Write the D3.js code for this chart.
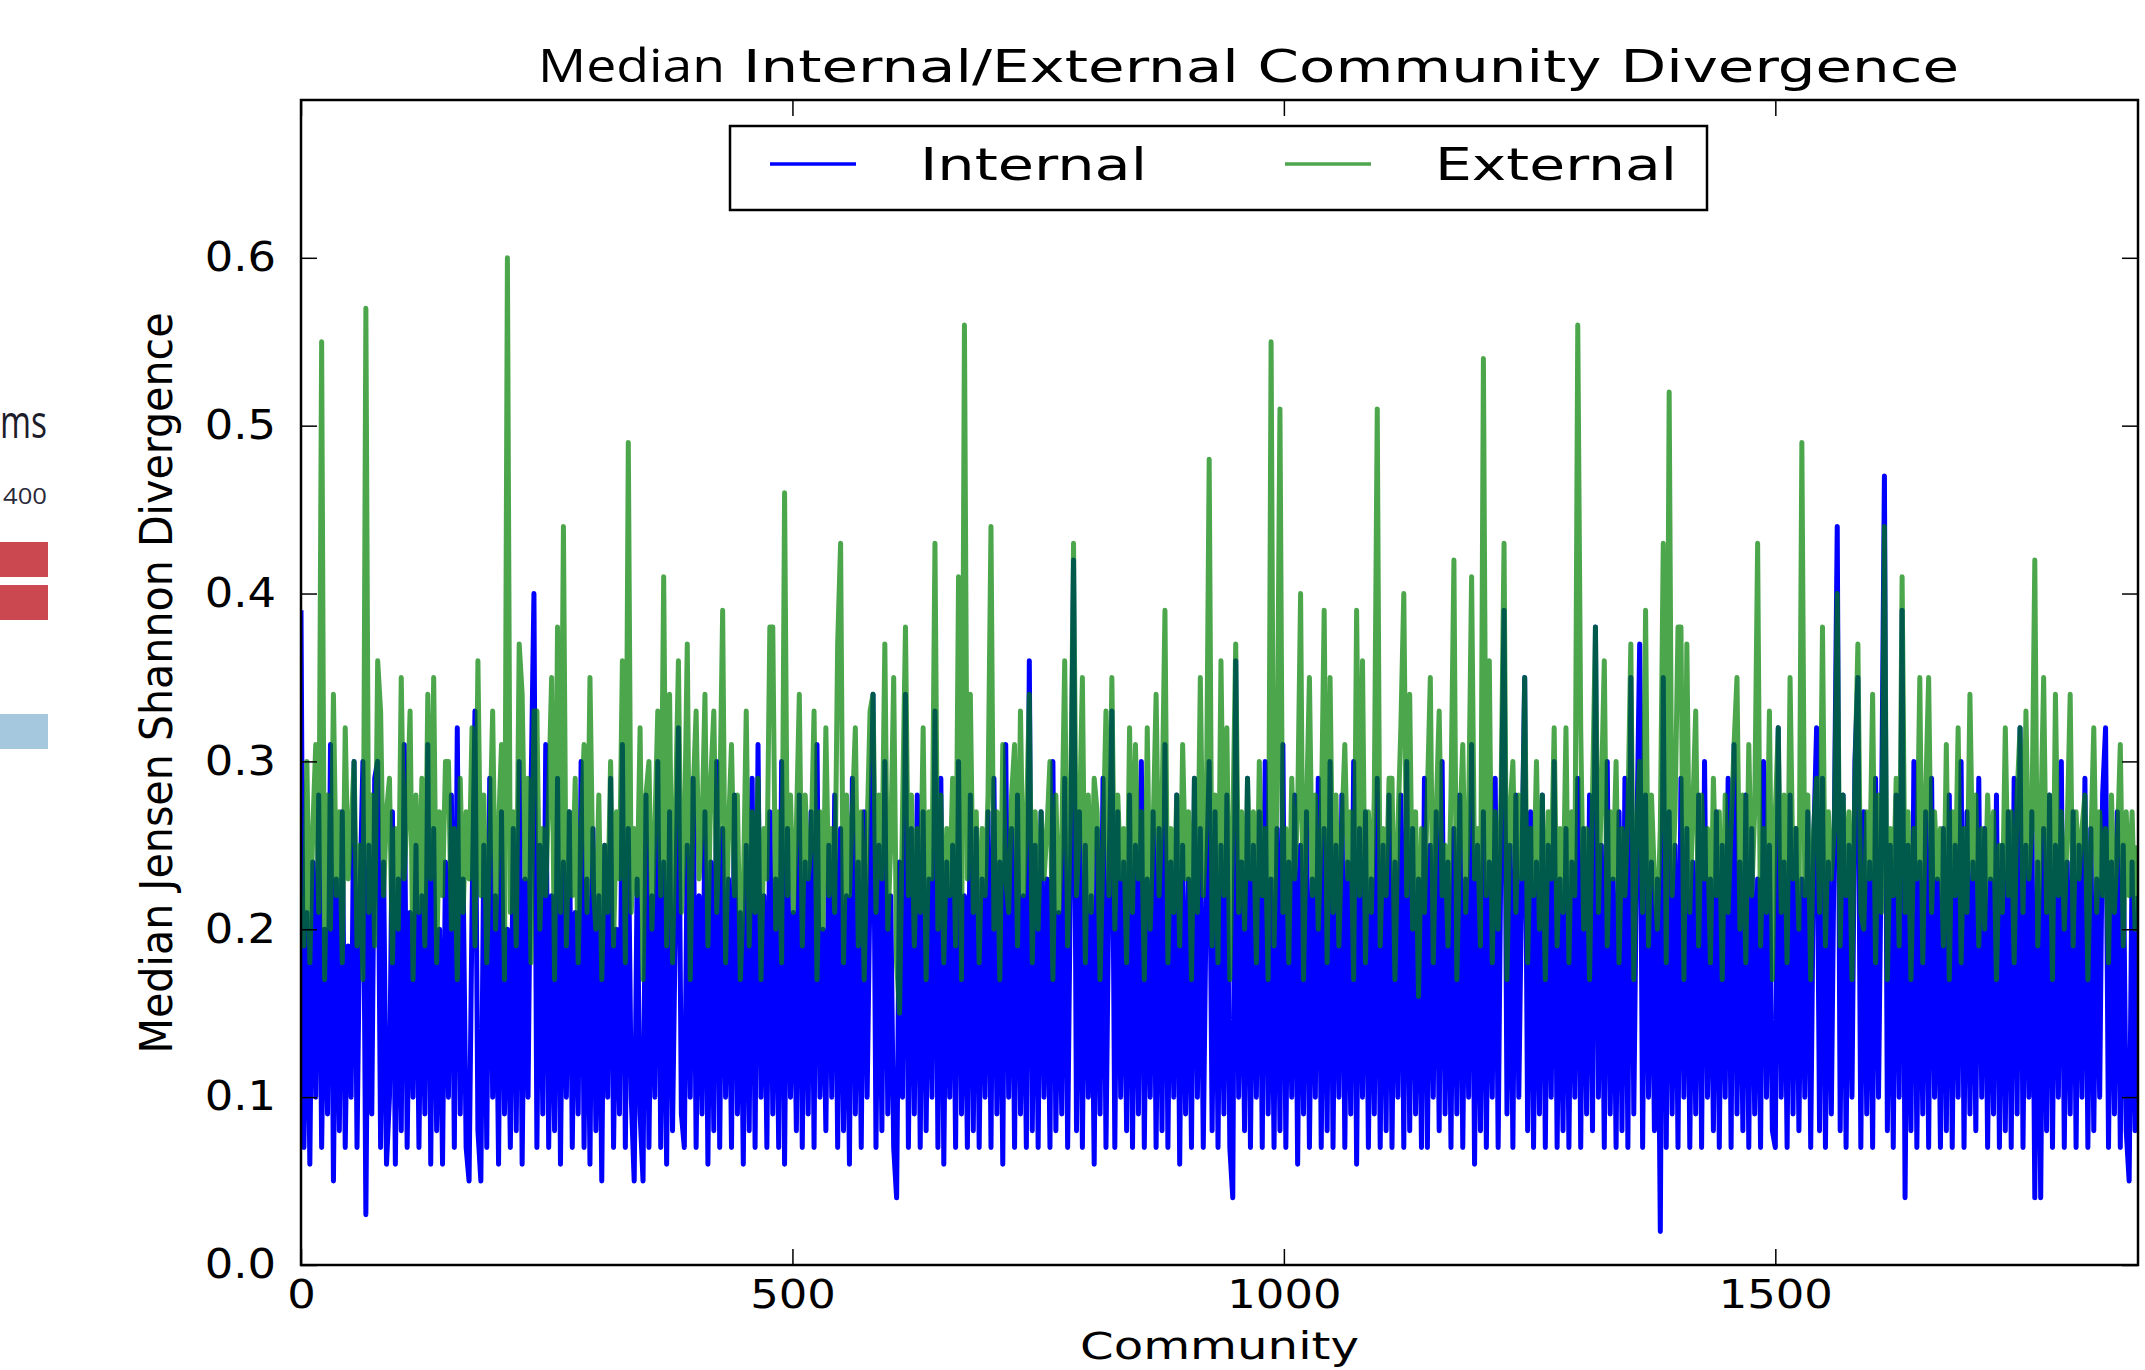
<!DOCTYPE html>
<html lang="en">
<head>
<meta charset="UTF-8">
<title>Median Internal/External Community Divergence</title>
<script src="https://d3js.org/d3.v7.min.js"></script>
<style>
    body { margin: 0; background: #fff; }
    text { font-family: "DejaVu Sans", sans-serif; fill: #000; }
</style>
</head>
<body>
<svg width="2145" height="1370"></svg>
<script>
// one value every 3 communities, in hundredths
const step = 3;

const internal = [
    39,7,21,6,24,10,28,7,20,9, 31,5,23,8,27,7,19,10,30,7, 22,30,3,25,9,29,30,7,24,6,
    10,27,6,23,8,31,7,21,10,25, 7,22,9,31,6,26,8,20,6,24, 10,28,7,32,9,23,7,5,21,33,
    8,5,25,7,29,10,22,6,27,9, 20,7,26,8,30,6,23,10,28,40, 7,25,9,31,7,22,8,29,6,24,
    10,27,7,21,9,30,7,23,6,26, 8,22,5,25,10,29,7,20,9,31, 7,26,10,5,23,9,5,28,7,22,
    10,30,7,24,6,27,8,21,32,9, 7,25,10,29,7,22,9,27,6,24, 8,30,7,26,10,23,7,28,9,21,
    6,25,8,29,7,31,10,22,7,27, 9,23,7,30,6,26,10,21,8,28, 7,24,9,27,7,31,10,20,8,25,
    10,28,7,26,8,22,6,29,9,24, 7,27,10,23,34,7,25,8,30,9, 22,7,4,24,10,34,7,26,9,28,
    7,27,8,23,10,33,7,29,6,24, 10,25,7,30,9,22,7,28,8,26, 7,23,10,27,7,29,9,24,6,31,
    10,26,7,28,9,22,7,36,8,25, 7,27,10,23,7,30,8,21,9,29, 7,24,42,8,27,7,25,10,22,6,
    26,9,29,7,23,33,7,27,10,24, 8,28,7,25,9,30,7,23,10,27, 7,26,8,31,7,24,10,28,6,25,
    9,23,7,29,10,26,7,22,30,8, 27,7,25,9,28,7,4,36,10,24, 8,29,7,25,10,27,7,30,9,23,
    7,26,8,31,7,24,10,28,6,25, 9,27,7,23,10,29,7,26,8,30, 7,25,10,28,7,24,9,30,6,26,
    10,27,7,23,9,29,7,25,8,28, 7,24,10,28,7,30,8,26,9,23, 7,29,7,25,10,27,8,30,9,24,
    7,26,9,28,7,23,10,31,6,25, 8,27,7,24,10,29,7,26,39,9, 25,7,28,10,23,35,8,27,7,24,
    9,28,7,25,10,30,7,23,8,26, 7,24,10,29,7,26,9,28,8,38, 10,25,7,30,9,23,7,27,8,29,
    7,35,9,25,37,7,28,10,24,8, 23,2,35,7,27,9,25,7,29,10, 26,7,24,9,28,7,30,10,23,8,
    27,7,25,10,29,7,31,9,24,8, 28,7,26,9,23,7,30,10,25,8, 7,32,10,24,7,28,9,26,8,23,
    10,27,7,25,32,8,29,7,24,9, 26,44,8,28,7,25,10,30,35,7, 27,9,24,7,29,10,26,47,8,25,
    7,28,10,39,4,25,8,30,7,24, 9,27,7,29,10,23,7,26,8,28, 7,25,10,30,7,27,9,24,8,29,
    10,26,7,23,9,28,7,25,8,27, 7,29,9,32,7,25,10,27,4,24, 4,26,8,28,7,25,10,30,7,24,
    9,27,7,25,10,29,7,26,8,23, 10,28,32,7,24,9,27,7,25,8, 5,24,8,22
];

const external = [
    22,19,30,18,26,31,21,55,17,28, 20,34,22,27,18,32,23,26,30,19, 25,17,57,21,28,19,36,33,22,27,
    29,18,26,20,35,23,27,33,17,28, 21,29,19,34,23,35,18,27,22,30, 30,20,26,17,29,21,27,23,32,19,
    36,22,28,18,25,33,20,26,31,17, 60,21,27,19,37,34,23,29,18,33, 33,20,26,22,28,35,17,38,21,44,
    19,27,22,29,18,26,31,21,35,23, 20,28,17,25,21,30,19,27,23,36, 18,49,21,26,22,32,17,28,30,20,
    26,33,22,41,19,34,18,27,36,21, 25,37,17,28,33,23,26,34,19,29, 33,21,27,39,18,26,31,22,28,17,
    22,33,19,27,21,29,17,26,23,38, 38,20,27,18,46,22,28,21,26,34, 19,28,23,25,33,17,27,20,32,22,
    26,21,37,43,18,28,22,27,32,19, 27,17,26,33,34,21,28,23,37,20, 25,35,18,15,27,38,22,28,19,26,
    21,32,17,27,23,43,20,28,18,26, 22,29,19,41,17,56,23,34,21,27, 18,26,22,28,44,20,27,17,31,23,
    21,28,31,19,33,22,26,34,18,27, 20,27,23,26,30,17,28,21,25,36, 19,27,43,22,26,35,18,28,21,29,
    27,17,25,33,22,35,20,28,23,26, 18,32,21,31,23,27,17,32,20,26, 34,22,27,39,18,26,21,28,19,31,
    23,27,17,29,21,35,22,26,48,19, 28,18,36,22,32,17,26,37,21,27, 20,29,23,27,18,30,22,26,17,55,
    19,28,51,21,26,18,29,23,27,40, 17,27,35,22,28,20,26,39,18,35, 21,28,19,26,31,23,27,17,39,22,
    36,18,27,21,28,51,19,26,22,29, 29,17,26,32,40,22,34,20,27,16, 26,21,28,35,18,27,33,22,25,19,
    28,42,17,26,31,21,27,41,23,26, 19,54,22,36,18,27,20,28,43,17, 27,30,21,28,23,35,18,26,22,30,
    20,28,17,27,23,32,19,26,21,32, 18,27,22,56,32,20,26,17,28,38, 21,28,36,19,27,23,30,18,26,22,
    27,37,17,26,30,21,39,19,28,23, 20,26,43,18,52,22,27,38,38,17, 37,21,27,33,19,28,23,26,18,29,
    22,27,17,28,21,26,31,35,20,28, 18,31,22,27,43,19,26,21,33,17, 27,32,21,28,18,35,23,26,20,49,
    22,28,17,26,29,21,38,19,27,23, 26,40,19,28,22,27,17,29,37,21, 20,27,23,34,18,28,21,44,17,26,
    22,29,19,41,21,27,17,26,23,35, 18,28,35,21,27,23,26,19,31,17, 27,22,32,18,26,21,34,23,28,19,
    26,20,28,23,27,17,25,21,32,22, 27,18,28,32,21,33,23,26,42,19, 26,35,21,28,17,34,22,27,20,26,
    34,19,27,23,26,28,17,25,32,21, 27,22,26,18,28,21,25,31,19,27, 22,27,20,25
];

const seriesNames = ["Internal", "External"];
const xTicks = [0, 500, 1000, 1500];
const yTicks = [0.0, 0.1, 0.2, 0.3, 0.4, 0.5, 0.6];

const svg = d3.select("svg");
const plotLeft = 301, plotRight = 2138, plotTop = 100, plotBottom = 1265;

const x = d3.scaleLinear().domain([0, 1869]).range([plotLeft, plotRight]);
const y = d3.scaleLinear().domain([0, 0.694]).range([plotBottom, plotTop]);

// stretch text horizontally like the reference
function stretch(sel, k) {
    sel.each(function() {
        const w = this.getComputedTextLength();
        d3.select(this).attr("textLength", w * k).attr("lengthAdjust", "spacingAndGlyphs");
    });
}

// bits of the neighbouring figure at the left edge
svg.append("text").attr("x", 0).attr("y", 438)
    .style("font-family", '"Open Sans", sans-serif').style("font-size", "46px")
    .attr("textLength", 47).attr("lengthAdjust", "spacingAndGlyphs")
    .style("fill", "#1c1c2a").text("ms");
svg.append("text").attr("x", 3).attr("y", 504)
    .style("font-family", '"Open Sans", sans-serif').style("font-size", "21px")
    .attr("textLength", 44).attr("lengthAdjust", "spacingAndGlyphs")
    .style("fill", "#2a2a3a").text("400");
svg.append("rect").attr("x", 0).attr("y", 542).attr("width", 48).attr("height", 35).attr("fill", "#cc4850");
svg.append("rect").attr("x", 0).attr("y", 585).attr("width", 48).attr("height", 35).attr("fill", "#cc4850");
svg.append("rect").attr("x", 0).attr("y", 714).attr("width", 48).attr("height", 35).attr("fill", "#a5c8df");

// plot clip
svg.append("clipPath").attr("id", "plot")
    .append("rect").attr("x", plotLeft).attr("y", plotTop)
    .attr("width", plotRight - plotLeft).attr("height", plotBottom - plotTop);

const line = d3.line().x(d => x(d[0])).y(d => y(d[1]));
const toPoints = arr => arr.map((v, i) => [i * step, v / 100]);

const plot = svg.append("g").attr("clip-path", "url(#plot)");
plot.append("path")
    .datum(toPoints(internal))
    .attr("fill", "none").attr("stroke", "#0000ff").attr("stroke-width", 5)
    .attr("stroke-linejoin", "round")
    .attr("d", line);
plot.append("path")
    .datum(toPoints(external))
    .attr("fill", "none").attr("stroke", "#008000").attr("stroke-opacity", 0.7).attr("stroke-width", 5)
    .attr("stroke-linejoin", "round")
    .attr("d", line);

// axes, ticks pointing inwards on all four sides
const yAxis = svg.append("g").attr("transform", `translate(${plotLeft},0)`)
    .call(d3.axisLeft(y).tickValues(yTicks).tickSizeInner(-16).tickSizeOuter(0).tickPadding(25).tickFormat(d3.format(".1f")));
const xAxis = svg.append("g").attr("transform", `translate(0,${plotBottom})`)
    .call(d3.axisBottom(x).tickValues(xTicks).tickSizeInner(-16).tickSizeOuter(0).tickPadding(15).tickFormat(d3.format("d")));
svg.append("g").attr("transform", `translate(0,${plotTop})`)
    .call(d3.axisTop(x).tickValues(xTicks).tickSizeInner(-16).tickSizeOuter(0).tickFormat(""));
svg.append("g").attr("transform", `translate(${plotRight},0)`)
    .call(d3.axisRight(y).tickValues(yTicks).tickSizeInner(-16).tickSizeOuter(0).tickFormat(""));

svg.selectAll(".domain").remove();
svg.selectAll(".tick line").attr("stroke", "#000").attr("stroke-width", 1.5);
yAxis.selectAll("text").style("font-size", "40px").style("font-family", '"DejaVu Sans", sans-serif');
xAxis.selectAll("text").style("font-size", "39px").style("font-family", '"DejaVu Sans", sans-serif');
stretch(yAxis.selectAll("text"), 1.12);
stretch(xAxis.selectAll("text"), 1.15);

// frame
svg.append("rect").attr("x", plotLeft).attr("y", plotTop)
    .attr("width", plotRight - plotLeft).attr("height", plotBottom - plotTop)
    .attr("fill", "none").attr("stroke", "#000").attr("stroke-width", 2.5);

// title
svg.append("text").attr("x", 538).attr("y", 82)
    .style("font-family", '"Open Sans", sans-serif').style("font-size", "45px")
    .attr("textLength", 187).attr("lengthAdjust", "spacingAndGlyphs")
    .text("Median");
svg.append("text").attr("x", 743).attr("y", 82)
    .style("font-size", "45px")
    .attr("textLength", 1216).attr("lengthAdjust", "spacingAndGlyphs")
    .text("Internal/External Community Divergence");

// axis labels
svg.append("text").attr("x", (plotLeft + plotRight) / 2).attr("y", 1359)
    .attr("text-anchor", "middle").style("font-size", "37px")
    .attr("textLength", 279).attr("lengthAdjust", "spacingAndGlyphs")
    .text("Community");
svg.append("text").attr("transform", "translate(172,683) rotate(-90)")
    .attr("text-anchor", "middle").style("font-size", "45px")
    .attr("textLength", 741).attr("lengthAdjust", "spacingAndGlyphs")
    .text("Median Jensen Shannon Divergence");

// legend
const legend = svg.append("g");
legend.append("rect").attr("x", 730).attr("y", 126).attr("width", 977).attr("height", 84)
    .attr("fill", "#fff").attr("stroke", "#000").attr("stroke-width", 2.5);
const legendColors = ["#0000ff", "#008000"];
const legendOpacity = [1, 0.7];
const legendX = [770, 1285];
const legendLen = [227, 242];
seriesNames.forEach((name, i) => {
    legend.append("line")
        .attr("x1", legendX[i]).attr("x2", legendX[i] + 86)
        .attr("y1", 164).attr("y2", 164)
        .attr("stroke", legendColors[i]).attr("stroke-opacity", legendOpacity[i]).attr("stroke-width", 3.5);
    legend.append("text")
        .attr("x", legendX[i] + 150).attr("y", 180)
        .style("font-size", "45px")
        .attr("textLength", legendLen[i]).attr("lengthAdjust", "spacingAndGlyphs")
        .text(name);
});
</script>
</body>
</html>
